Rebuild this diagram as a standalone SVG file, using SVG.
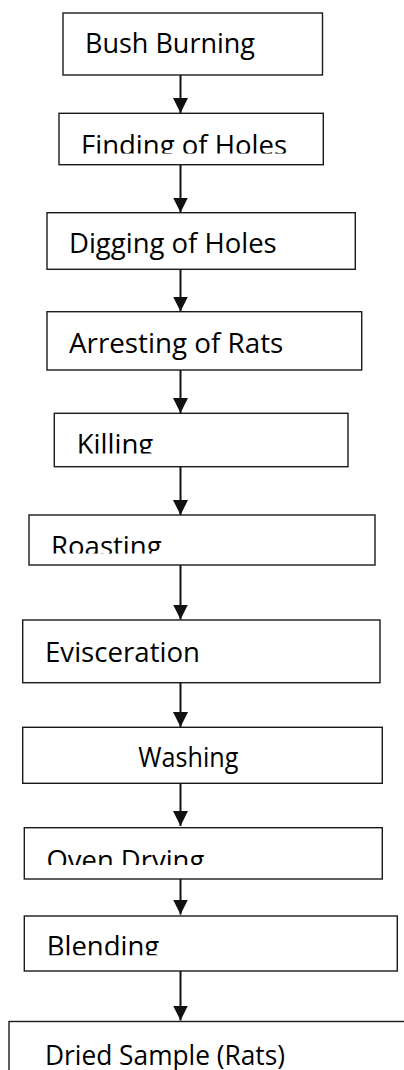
<svg xmlns="http://www.w3.org/2000/svg" width="404" height="1070" viewBox="0 0 404 1070">
  <style>
    .box { fill: #ffffff; stroke: #1a1a1a; stroke-width: 1.4; }
    .lbl { font-family: "Open Sans", "Noto Sans", "Liberation Sans", sans-serif; font-size: 27.5px; fill: #000000; }
    .link { stroke: #111111; stroke-width: 2; fill: none; }
  </style>
  <defs>
    <marker id="head" markerUnits="userSpaceOnUse" markerWidth="16" markerHeight="16" refX="15" refY="7.5" orient="auto">
      <path d="M0,0 L15,7.5 L0,15 Z" fill="#111111"/>
    </marker>
    <clipPath id="cFinding"><rect x="59" y="113" width="265" height="40.5"/></clipPath>
    <clipPath id="cKilling"><rect x="54" y="413" width="294" height="40.5"/></clipPath>
    <clipPath id="cRoasting"><rect x="29" y="515" width="346" height="38.5"/></clipPath>
    <clipPath id="cOven"><rect x="24" y="827" width="358" height="38"/></clipPath>
    <clipPath id="cBlending"><rect x="24" y="916" width="373" height="39.3"/></clipPath>
  </defs>

  <rect width="404" height="1070" fill="#ffffff"/>

  <!-- connectors: straight downward arrows along the centre column -->
  <g id="connectors">
    <line class="link" x1="180.5" y1="75" x2="180.5" y2="113" marker-end="url(#head)"/>
    <line class="link" x1="180.5" y1="165" x2="180.5" y2="212.5" marker-end="url(#head)"/>
    <line class="link" x1="180.5" y1="269.5" x2="180.5" y2="311.5" marker-end="url(#head)"/>
    <line class="link" x1="180.5" y1="370" x2="180.5" y2="413" marker-end="url(#head)"/>
    <line class="link" x1="180.5" y1="467" x2="180.5" y2="515" marker-end="url(#head)"/>
    <line class="link" x1="180.5" y1="565" x2="180.5" y2="619.5" marker-end="url(#head)"/>
    <line class="link" x1="180.5" y1="683" x2="180.5" y2="727" marker-end="url(#head)"/>
    <line class="link" x1="180.5" y1="783.5" x2="180.5" y2="826" marker-end="url(#head)"/>
    <line class="link" x1="180.5" y1="879" x2="180.5" y2="914.5" marker-end="url(#head)"/>
    <line class="link" x1="180.5" y1="971" x2="180.5" y2="1020.5" marker-end="url(#head)"/>
  </g>

  <g id="bush-burning">
    <rect class="box" x="63" y="13" width="259.5" height="62"/>
    <text class="lbl" x="85" y="53.3" textLength="170" lengthAdjust="spacingAndGlyphs">Bush Burning</text>
  </g>

  <g id="finding-of-holes">
    <rect class="box" x="59" y="113.3" width="264.3" height="51.4"/>
    <text class="lbl" x="81" y="155" textLength="206" lengthAdjust="spacingAndGlyphs" clip-path="url(#cFinding)">Finding of Holes</text>
  </g>

  <g id="digging-of-holes">
    <rect class="box" x="47" y="212.7" width="308.3" height="56.6"/>
    <text class="lbl" x="69" y="253.3" textLength="207.7" lengthAdjust="spacingAndGlyphs">Digging of Holes</text>
  </g>

  <g id="arresting-of-rats">
    <rect class="box" x="47" y="311.7" width="314.7" height="58.3"/>
    <text class="lbl" x="69" y="352.7" textLength="214.3" lengthAdjust="spacingAndGlyphs">Arresting of Rats</text>
  </g>

  <g id="killing">
    <rect class="box" x="54.3" y="413.3" width="293.7" height="53.4"/>
    <text class="lbl" x="76.7" y="454.3" textLength="76.6" lengthAdjust="spacingAndGlyphs" clip-path="url(#cKilling)">Killing</text>
  </g>

  <g id="roasting">
    <rect class="box" x="29" y="515" width="346" height="50"/>
    <text class="lbl" x="51" y="556" textLength="110.7" lengthAdjust="spacingAndGlyphs" clip-path="url(#cRoasting)">Roasting</text>
  </g>

  <g id="evisceration">
    <rect class="box" x="22.7" y="620" width="357.3" height="62.7"/>
    <text class="lbl" x="45" y="661.7" textLength="155" lengthAdjust="spacingAndGlyphs">Evisceration</text>
  </g>

  <g id="washing">
    <rect class="box" x="22.7" y="727.3" width="359.6" height="56"/>
    <text class="lbl" x="138.3" y="766.7" textLength="100" lengthAdjust="spacingAndGlyphs">Washing</text>
  </g>

  <g id="oven-drying">
    <rect class="box" x="24.3" y="827.7" width="358" height="51.3"/>
    <text class="lbl" x="46.5" y="870" textLength="157.8" lengthAdjust="spacingAndGlyphs" clip-path="url(#cOven)">Oven Drying</text>
  </g>

  <g id="blending">
    <rect class="box" x="24.3" y="916" width="373" height="55"/>
    <text class="lbl" x="46.7" y="956" textLength="112.6" lengthAdjust="spacingAndGlyphs" clip-path="url(#cBlending)">Blending</text>
  </g>

  <g id="dried-sample">
    <rect class="box" x="9" y="1021.5" width="420" height="70"/>
    <text class="lbl" x="45" y="1065" textLength="240" lengthAdjust="spacingAndGlyphs">Dried Sample (Rats)</text>
  </g>
</svg>
